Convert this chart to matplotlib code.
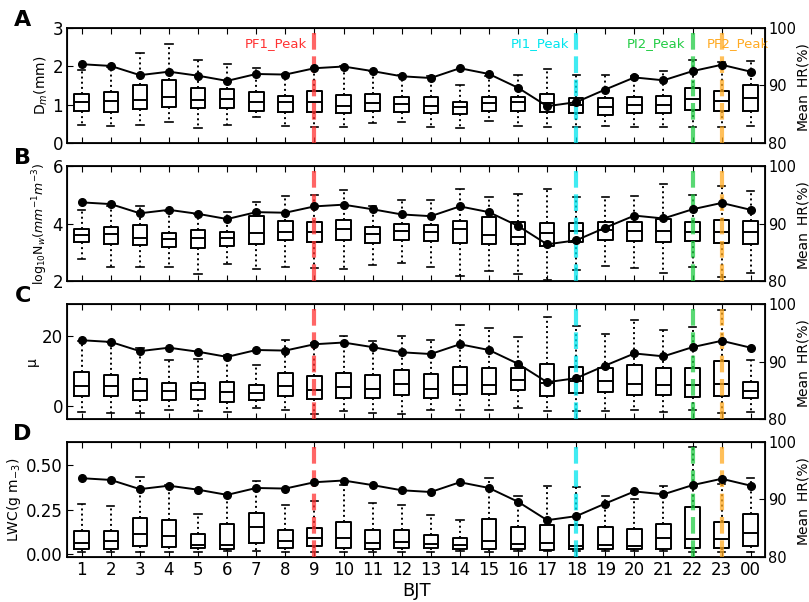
import matplotlib
matplotlib.use("Agg")
import matplotlib.pyplot as plt

hours = list(range(1, 25))
hour_labels = [str(h) for h in range(1, 24)] + ["00"]

# mean HR (%), right axis, same in every panel
mean_hr = [93.7, 93.4, 91.8, 92.4, 91.7, 90.8, 92.0, 91.9, 93.0, 93.3, 92.5, 91.6,
           91.3, 93.0, 92.0, 89.6, 86.4, 87.1, 89.3, 91.4, 90.9, 92.5, 93.6, 92.4]

# A: Dm (mm)
dm_lo = [0.47, 0.43, 0.46, 0.55, 0.39, 0.47, 0.68, 0.43, 0.41, 0.41, 0.52, 0.55,
         0.41, 0.39, 0.58, 0.43, 0.41, 0.41, 0.43, 0.41, 0.41, 0.41, 0.41, 0.45]
dm_q1 = [0.84, 0.80, 0.89, 0.93, 0.90, 0.90, 0.83, 0.81, 0.81, 0.77, 0.83, 0.80,
         0.78, 0.76, 0.83, 0.84, 0.82, 0.78, 0.73, 0.78, 0.78, 0.87, 0.83, 0.84]
dm_med = [1.07, 1.09, 1.13, 1.21, 1.13, 1.15, 1.08, 1.06, 1.07, 0.97, 1.05, 1.01,
          0.97, 0.93, 1.03, 1.07, 1.04, 0.98, 0.93, 0.99, 0.99, 1.15, 1.10, 1.17]
dm_q3 = [1.28, 1.33, 1.51, 1.64, 1.43, 1.40, 1.34, 1.23, 1.35, 1.25, 1.27, 1.19,
         1.19, 1.06, 1.19, 1.21, 1.28, 1.17, 1.17, 1.21, 1.23, 1.43, 1.35, 1.51]
dm_hi = [1.91, 1.98, 2.35, 2.59, 2.16, 2.07, 1.95, 1.80, 1.95, 2.00, 1.88, 1.77,
         1.75, 1.50, 1.74, 1.78, 1.93, 1.77, 1.77, 1.75, 1.88, 2.17, 2.10, 2.15]

# B: log10 Nw
nw_lo = [2.77, 2.48, 2.48, 2.48, 2.24, 2.59, 2.41, 2.48, 2.45, 2.41, 2.55, 2.63,
         2.49, 2.18, 2.34, 2.26, 2.03, 2.38, 2.53, 2.45, 2.30, 2.48, 2.15, 2.28]
nw_q1 = [3.36, 3.30, 3.25, 3.18, 3.14, 3.21, 3.29, 3.44, 3.37, 3.44, 3.33, 3.44,
         3.38, 3.33, 3.29, 3.29, 3.21, 3.36, 3.43, 3.38, 3.37, 3.40, 3.32, 3.29]
nw_med = [3.59, 3.64, 3.51, 3.46, 3.51, 3.49, 3.69, 3.71, 3.72, 3.83, 3.63, 3.75,
          3.70, 3.80, 3.61, 3.53, 3.69, 3.74, 3.78, 3.75, 3.76, 3.71, 3.70, 3.70]
nw_q3 = [3.82, 3.89, 3.95, 3.68, 3.77, 3.70, 4.25, 4.09, 4.05, 4.14, 3.87, 4.00,
         3.95, 4.09, 4.22, 4.05, 4.02, 4.01, 4.05, 4.07, 4.15, 4.05, 4.13, 4.10]
nw_hi = [4.47, 4.60, 4.60, 4.45, 4.35, 4.39, 4.75, 4.95, 5.01, 5.18, 4.60, 4.82,
         4.83, 5.20, 4.91, 5.02, 5.20, 4.94, 4.94, 4.97, 5.39, 5.01, 5.32, 5.15]

# C: mu
mu_lo = [-1.8, -2.1, -2.1, -1.4, -1.6, -1.8, -0.8, -1.4, -2.4, -1.6, -2.2, -2.4,
         -1.3, -1.4, -1.4, -0.8, -1.6, -1.6, -1.6, -1.3, -1.8, -1.3, -2.2, -1.9]
mu_q1 = [2.9, 2.7, 1.5, 1.5, 2.0, 0.9, 1.6, 2.8, 1.9, 2.1, 2.2, 3.1,
         2.3, 3.4, 3.3, 4.5, 2.9, 3.6, 3.9, 3.0, 3.1, 2.5, 2.7, 2.3]
mu_med = [5.6, 5.6, 4.3, 4.3, 4.5, 3.8, 3.5, 5.6, 4.4, 5.3, 4.9, 6.3,
          4.8, 5.8, 5.8, 7.5, 6.5, 7.0, 7.0, 6.3, 5.8, 5.8, 6.3, 4.3]
mu_q3 = [9.7, 8.8, 7.8, 6.4, 6.6, 6.8, 5.8, 9.5, 8.6, 9.3, 8.9, 10.4,
         9.0, 11.3, 11.0, 10.8, 11.9, 11.3, 10.8, 11.8, 10.8, 10.8, 13.0, 6.8]
mu_hi = [18.8, 18.5, 16.7, 13.3, 13.6, 14.7, 11.6, 19.0, 18.2, 20.0, 18.6, 20.2,
         19.0, 23.4, 22.4, 19.8, 25.7, 22.9, 20.7, 24.7, 21.8, 22.6, 27.8, 13.2]

# D: LWC (g m-3)
lwc_lo = [0.013, 0.011, 0.013, 0.013, 0.013, 0.019, 0.015, 0.013, 0.013, 0.013, 0.013, 0.013,
          0.013, 0.019, 0.013, 0.019, 0.019, 0.019, 0.019, 0.019, 0.019, 0.013, 0.013, 0.013]
lwc_q1 = [0.030, 0.030, 0.043, 0.038, 0.036, 0.028, 0.060, 0.036, 0.045, 0.036, 0.030, 0.034,
          0.034, 0.028, 0.030, 0.028, 0.023, 0.028, 0.026, 0.026, 0.030, 0.034, 0.034, 0.043]
lwc_med = [0.060, 0.073, 0.113, 0.103, 0.053, 0.051, 0.150, 0.073, 0.088, 0.088, 0.064, 0.070,
           0.058, 0.049, 0.075, 0.058, 0.064, 0.045, 0.049, 0.047, 0.092, 0.086, 0.083, 0.118]
lwc_q3 = [0.130, 0.128, 0.203, 0.190, 0.113, 0.169, 0.231, 0.135, 0.147, 0.179, 0.133, 0.135,
          0.109, 0.092, 0.194, 0.152, 0.165, 0.164, 0.150, 0.143, 0.171, 0.263, 0.180, 0.226]
lwc_hi = [0.280, 0.267, 0.434, 0.390, 0.227, 0.330, 0.410, 0.278, 0.297, 0.389, 0.286, 0.274,
          0.218, 0.190, 0.429, 0.327, 0.380, 0.376, 0.325, 0.310, 0.380, 0.600, 0.395, 0.429]

peak_hours = [9, 18, 22, 23]
peak_names = ["PF1_Peak", "PI1_Peak", "PI2_Peak", "PF2_Peak"]
peak_colors = ["#ff3333", "#00e5ee", "#22cc44", "#ffaa22"]

panels = [
    ("A", "D$_m$(mm)", (dm_lo, dm_q1, dm_med, dm_q3, dm_hi), (0, 3), [0, 1, 2, 3], "%g"),
    ("B", "log$_{10}$N$_w$($mm^{-1}m^{-3}$)", (nw_lo, nw_q1, nw_med, nw_q3, nw_hi), (2, 6), [2, 4, 6], "%g"),
    ("C", "μ", (mu_lo, mu_q1, mu_med, mu_q3, mu_hi), (-3.9, 29.4), [0, 20], "%g"),
    ("D", "LWC(g m$_{-3}$)", (lwc_lo, lwc_q1, lwc_med, lwc_q3, lwc_hi), (-0.017, 0.63), [0, 0.25, 0.5], "%.2f"),
]

fig = plt.figure(figsize=(8.09, 6.02), dpi=100)
left, width, height = 0.083, 0.863, 0.191
bottoms = [0.7625, 0.533, 0.304, 0.0748]

for i, (letter, ylab, stats5, ylim, yticks, fmt) in enumerate(panels):
    ax = fig.add_axes([left, bottoms[i], width, height])
    lo, q1, med, q3, hi = stats5
    stats = [dict(whislo=lo[k], q1=q1[k], med=med[k], q3=q3[k], whishi=hi[k], fliers=[])
             for k in range(len(hours))]
    ax.bxp(stats, positions=hours, widths=0.5, showfliers=False,
           boxprops=dict(color="black", linewidth=1.4),
           medianprops=dict(color="black", linewidth=1.4),
           whiskerprops=dict(color="black", linewidth=1.4, linestyle=":"),
           capprops=dict(color="black", linewidth=1.2))
    ax.set_xlim(0.5, 24.5)
    ax.set_ylim(*ylim)
    ax.set_yticks(yticks)
    ax.yaxis.set_major_formatter(matplotlib.ticker.FormatStrFormatter(fmt))
    ax.set_ylabel(ylab, fontsize=9 if i == 1 else 10, labelpad=2)
    ax.tick_params(direction="in", top=True, labelsize=12, length=4, pad=3)
    ax.set_xticks(hours)
    if i == 3:
        ax.set_xticklabels(hour_labels)
        ax.set_xlabel("BJT", fontsize=13, labelpad=2)
    else:
        ax.set_xticklabels([])
    for sp in ax.spines.values():
        sp.set_linewidth(1.3)

    for h, c in zip(peak_hours, peak_colors):
        ax.axvline(h, color=c, linestyle=(0, (4, 1.6)), linewidth=3, alpha=0.75, zorder=5)

    if i == 0:
        for h, name, c in zip(peak_hours, peak_names, peak_colors):
            if name == "PF2_Peak":
                ax.text(h - 0.5, 2.6, name, color=c, fontsize=9.5, ha="left", va="center")
            else:
                ax.text(h - 0.25, 2.6, name, color=c, fontsize=9.5, ha="right", va="center")

    ax2 = ax.twinx()
    ax2.plot(hours, mean_hr, color="black", marker="o", markersize=5.5, linewidth=1.4, zorder=6)
    ax2.set_ylim(80, 100)
    ax2.set_yticks([80, 90, 100])
    ax2.tick_params(direction="in", labelsize=10.5, length=4, pad=2)
    ax2.set_ylabel("Mean_HR(%)", fontsize=10)
    ax2.yaxis.set_label_coords(1.043, 0.5)
    ax2.set_xlim(0.5, 24.5)

    fig.text(0.028, bottoms[i] + height + 0.014, letter, fontsize=16, fontweight="bold",
             ha="center", va="center")

fig.savefig("out.png", dpi=100)
